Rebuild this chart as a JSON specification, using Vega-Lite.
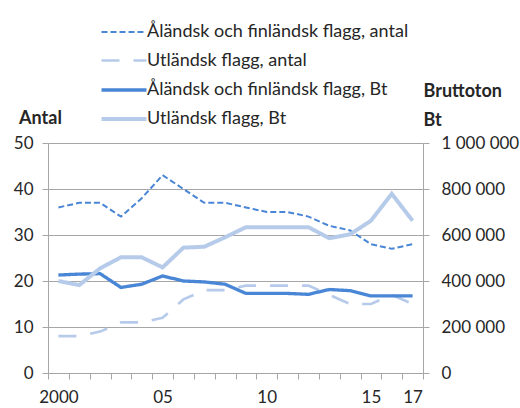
{
  "$schema": "https://vega.github.io/schema/vega-lite/v6.json",
  "autosize": {"type": "none"},
  "width": 375,
  "height": 230,
  "padding": {"left": 48, "top": 143, "right": 97, "bottom": 35},
  "background": "white",
  "config": {
    "font": "Lato",
    "view": {"stroke": null},
    "axis": {"labelFont": "Lato", "titleFont": "Lato", "labelFontSize": 17, "labelColor": "#262626", "domainColor": "#a6a6a6", "tickColor": "#a6a6a6", "gridColor": "#a6a6a6", "tickSize": 6}
  },
  "datasets": {
    "antal": [
      {"year": 2000, "series": "Åländsk och finländsk flagg, antal", "value": 36},
      {"year": 2001, "series": "Åländsk och finländsk flagg, antal", "value": 37},
      {"year": 2002, "series": "Åländsk och finländsk flagg, antal", "value": 37},
      {"year": 2003, "series": "Åländsk och finländsk flagg, antal", "value": 34},
      {"year": 2004, "series": "Åländsk och finländsk flagg, antal", "value": 38},
      {"year": 2005, "series": "Åländsk och finländsk flagg, antal", "value": 43},
      {"year": 2006, "series": "Åländsk och finländsk flagg, antal", "value": 40},
      {"year": 2007, "series": "Åländsk och finländsk flagg, antal", "value": 37},
      {"year": 2008, "series": "Åländsk och finländsk flagg, antal", "value": 37},
      {"year": 2009, "series": "Åländsk och finländsk flagg, antal", "value": 36},
      {"year": 2010, "series": "Åländsk och finländsk flagg, antal", "value": 35},
      {"year": 2011, "series": "Åländsk och finländsk flagg, antal", "value": 35},
      {"year": 2012, "series": "Åländsk och finländsk flagg, antal", "value": 34},
      {"year": 2013, "series": "Åländsk och finländsk flagg, antal", "value": 32},
      {"year": 2014, "series": "Åländsk och finländsk flagg, antal", "value": 31},
      {"year": 2015, "series": "Åländsk och finländsk flagg, antal", "value": 28},
      {"year": 2016, "series": "Åländsk och finländsk flagg, antal", "value": 27},
      {"year": 2017, "series": "Åländsk och finländsk flagg, antal", "value": 28},
      {"year": 2000, "series": "Utländsk flagg, antal", "value": 8},
      {"year": 2001, "series": "Utländsk flagg, antal", "value": 8},
      {"year": 2002, "series": "Utländsk flagg, antal", "value": 9},
      {"year": 2003, "series": "Utländsk flagg, antal", "value": 11},
      {"year": 2004, "series": "Utländsk flagg, antal", "value": 11},
      {"year": 2005, "series": "Utländsk flagg, antal", "value": 12},
      {"year": 2006, "series": "Utländsk flagg, antal", "value": 16},
      {"year": 2007, "series": "Utländsk flagg, antal", "value": 18},
      {"year": 2008, "series": "Utländsk flagg, antal", "value": 18},
      {"year": 2009, "series": "Utländsk flagg, antal", "value": 19},
      {"year": 2010, "series": "Utländsk flagg, antal", "value": 19},
      {"year": 2011, "series": "Utländsk flagg, antal", "value": 19},
      {"year": 2012, "series": "Utländsk flagg, antal", "value": 19},
      {"year": 2013, "series": "Utländsk flagg, antal", "value": 17},
      {"year": 2014, "series": "Utländsk flagg, antal", "value": 15},
      {"year": 2015, "series": "Utländsk flagg, antal", "value": 15},
      {"year": 2016, "series": "Utländsk flagg, antal", "value": 17},
      {"year": 2017, "series": "Utländsk flagg, antal", "value": 15}
    ],
    "bt": [
      {"year": 2000, "series": "Åländsk och finländsk flagg, Bt", "value": 426000},
      {"year": 2001, "series": "Åländsk och finländsk flagg, Bt", "value": 430000},
      {"year": 2002, "series": "Åländsk och finländsk flagg, Bt", "value": 432000},
      {"year": 2003, "series": "Åländsk och finländsk flagg, Bt", "value": 372000},
      {"year": 2004, "series": "Åländsk och finländsk flagg, Bt", "value": 386000},
      {"year": 2005, "series": "Åländsk och finländsk flagg, Bt", "value": 422000},
      {"year": 2006, "series": "Åländsk och finländsk flagg, Bt", "value": 400000},
      {"year": 2007, "series": "Åländsk och finländsk flagg, Bt", "value": 396000},
      {"year": 2008, "series": "Åländsk och finländsk flagg, Bt", "value": 386000},
      {"year": 2009, "series": "Åländsk och finländsk flagg, Bt", "value": 346000},
      {"year": 2010, "series": "Åländsk och finländsk flagg, Bt", "value": 346000},
      {"year": 2011, "series": "Åländsk och finländsk flagg, Bt", "value": 346000},
      {"year": 2012, "series": "Åländsk och finländsk flagg, Bt", "value": 342000},
      {"year": 2013, "series": "Åländsk och finländsk flagg, Bt", "value": 363000},
      {"year": 2014, "series": "Åländsk och finländsk flagg, Bt", "value": 358000},
      {"year": 2015, "series": "Åländsk och finländsk flagg, Bt", "value": 335000},
      {"year": 2016, "series": "Åländsk och finländsk flagg, Bt", "value": 335000},
      {"year": 2017, "series": "Åländsk och finländsk flagg, Bt", "value": 335000},
      {"year": 2000, "series": "Utländsk flagg, Bt", "value": 400000},
      {"year": 2001, "series": "Utländsk flagg, Bt", "value": 382000},
      {"year": 2002, "series": "Utländsk flagg, Bt", "value": 455000},
      {"year": 2003, "series": "Utländsk flagg, Bt", "value": 503000},
      {"year": 2004, "series": "Utländsk flagg, Bt", "value": 503000},
      {"year": 2005, "series": "Utländsk flagg, Bt", "value": 459000},
      {"year": 2006, "series": "Utländsk flagg, Bt", "value": 545000},
      {"year": 2007, "series": "Utländsk flagg, Bt", "value": 549000},
      {"year": 2008, "series": "Utländsk flagg, Bt", "value": 590000},
      {"year": 2009, "series": "Utländsk flagg, Bt", "value": 634000},
      {"year": 2010, "series": "Utländsk flagg, Bt", "value": 634000},
      {"year": 2011, "series": "Utländsk flagg, Bt", "value": 634000},
      {"year": 2012, "series": "Utländsk flagg, Bt", "value": 634000},
      {"year": 2013, "series": "Utländsk flagg, Bt", "value": 586000},
      {"year": 2014, "series": "Utländsk flagg, Bt", "value": 603000},
      {"year": 2015, "series": "Utländsk flagg, Bt", "value": 662000},
      {"year": 2016, "series": "Utländsk flagg, Bt", "value": 779000},
      {"year": 2017, "series": "Utländsk flagg, Bt", "value": 662000}
    ]
  },
  "encoding": {
    "x": {
      "field": "year", "type": "quantitative",
      "scale": {"domain": [1999.5, 2017.5], "nice": false, "zero": false},
      "axis": {
        "title": null, "grid": false,
        "values": [1999.5, 2000.5, 2001.5, 2002.5, 2003.5, 2004.5, 2005.5, 2006.5, 2007.5, 2008.5, 2009.5, 2010.5, 2011.5, 2012.5, 2013.5, 2014.5, 2015.5, 2016.5, 2017.5],
        "labelExpr": "datum.value == 1999.5 ? '2000' : datum.value == 2004.5 ? '05' : datum.value == 2009.5 ? '10' : datum.value == 2014.5 ? '15' : datum.value == 2016.5 ? '17' : ''",
        "labelOffset": 10.4, "labelOverlap": false, "labelPadding": 10, "labelFlush": false
      }
    },
    "color": {
      "field": "series", "type": "nominal",
      "scale": {
        "domain": ["Åländsk och finländsk flagg, antal", "Utländsk flagg, antal", "Åländsk och finländsk flagg, Bt", "Utländsk flagg, Bt"],
        "range": ["#4a86d6", "#b6cbe9", "#4a86d6", "#b6cbe9"]
      },
      "legend": {
        "title": null, "orient": "none", "legendX": 64, "legendY": -122,
        "symbolType": "M-2.25,0H2.25", "symbolSize": 400, "labelFont": "Lato", "labelFontSize": 18, "labelColor": "#262626",
        "labelOffset": 11, "rowPadding": 8, "labelLimit": 400
      }
    },
    "strokeDash": {
      "field": "series", "type": "nominal",
      "scale": {
        "domain": ["Åländsk och finländsk flagg, antal", "Utländsk flagg, antal", "Åländsk och finländsk flagg, Bt", "Utländsk flagg, Bt"],
        "range": [[6, 3], [18, 14], [1, 0], [1, 0]]
      },
      "legend": null
    },
    "strokeWidth": {
      "field": "series", "type": "nominal",
      "scale": {
        "domain": ["Åländsk och finländsk flagg, antal", "Utländsk flagg, antal", "Åländsk och finländsk flagg, Bt", "Utländsk flagg, Bt"],
        "range": [2, 4, 4, 5]
      },
      "legend": null
    }
  },
  "layer": [
    {
      "data": {"name": "antal"},
      "mark": {"type": "line", "strokeCap": "butt"},
      "encoding": {
        "y": {
          "field": "value", "type": "quantitative",
          "scale": {"domain": [0, 50], "nice": false},
          "axis": {
            "values": [0, 10, 20, 30, 40, 50], "grid": true, "labelPadding": 9,
            "title": "Antal", "titleAngle": 0, "titleFontSize": 18, "titleFontWeight": "bold", "titleColor": "#262626",
            "titleX": -8, "titleY": -25, "titleAlign": "center", "titleBaseline": "middle"
          }
        }
      }
    },
    {
      "data": {"name": "bt"},
      "mark": {"type": "line", "strokeCap": "butt"},
      "encoding": {
        "y": {
          "field": "value", "type": "quantitative",
          "scale": {"domain": [0, 1000000], "nice": false},
          "axis": {
            "orient": "right", "values": [0, 200000, 400000, 600000, 800000, 1000000], "grid": false, "labelPadding": 12,
            "labelExpr": "replace(format(datum.value, ','), regexp(',', 'g'), ' ')",
            "title": ["Bruttoton", "\u00a0\u00a0Bt"], "titleAngle": 0, "titleFontSize": 18, "titleFontWeight": "bold", "titleColor": "#262626",
            "titleX": 0, "titleY": -61, "titleAlign": "left", "titleBaseline": "top", "titleLineHeight": 29
          }
        }
      }
    }
  ],
  "resolve": {"scale": {"y": "independent"}}
}
